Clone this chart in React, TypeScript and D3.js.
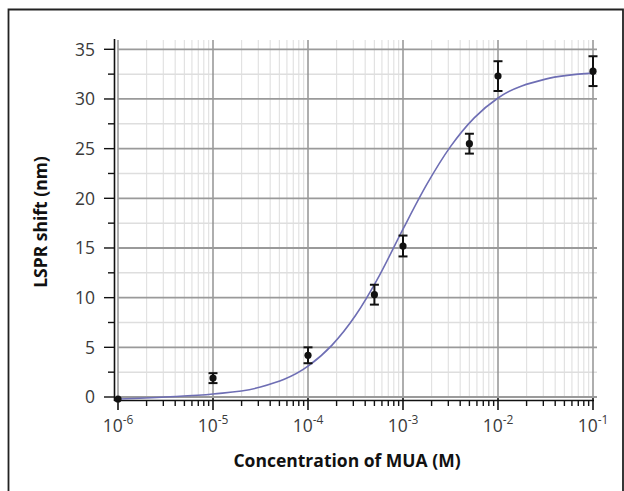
import React, { useEffect, useRef } from 'react'
import * as d3 from 'd3'

// measured points (concentration in M, LSPR shift in nm, error)
const conc = [1e-6, 1e-5, 1e-4, 5e-4, 1e-3, 5e-3, 1e-2, 1e-1]
const shift = [-0.2, 1.9, 4.2, 10.3, 15.2, 25.5, 32.3, 32.8]
const errs = [0, 0.5, 0.8, 1.0, 1.05, 1.0, 1.5, 1.5]

// fitted curve
const fitConc = [1e-6, 3.16e-6, 1e-5, 3.16e-5, 1e-4, 1.78e-4, 3.16e-4, 5.62e-4, 1e-3, 1.78e-3, 3.16e-3, 5.62e-3, 1e-2, 3.16e-2, 1e-1]
const fitShift = [-0.2, 0.0, 0.3, 1.0, 3.1, 5.2, 8.2, 12.2, 16.9, 21.4, 25.2, 28.1, 30.1, 32.0, 32.6]

const xTickExp = [-6, -5, -4, -3, -2, -1]
const yTicks = [0, 5, 10, 15, 20, 25, 30, 35]

const W = 624
const H = 491

export default function App() {
  const ref = useRef<SVGSVGElement | null>(null)

  useEffect(() => {
    const svg = d3.select(ref.current)
    svg.selectAll('*').remove()

    const x = d3.scaleLog().domain([1e-6, 1e-1]).range([118, 593])
    const y = d3.scaleLinear().domain([0, 35]).range([397, 49.3])
    const font = "'Open Sans', 'Noto Sans', sans-serif"

    // frame around the figure
    svg.append('path').attr('d', `M8.5,${H} V9.5 H${W - 1} V${H}`)
      .attr('fill', 'none').attr('stroke', '#222').attr('stroke-width', 1.8)

    const grid = svg.append('g')
    const gTop = 40, gRight = 597

    // minor grid
    const minorX: number[] = []
    for (let e = -6; e < -1; e++) for (let m = 2; m <= 9; m++) minorX.push(m * Math.pow(10, e))
    grid.selectAll('.mx').data(minorX).enter().append('line')
      .attr('x1', d => x(d)).attr('x2', d => x(d)).attr('y1', gTop).attr('y2', 397)
      .attr('stroke', '#e2e2e2').attr('stroke-width', 1.2)
    const minorY = d3.range(2.5, 35, 5)
    grid.selectAll('.my').data(minorY).enter().append('line')
      .attr('x1', 118).attr('x2', gRight).attr('y1', d => y(d)).attr('y2', d => y(d))
      .attr('stroke', '#dedede').attr('stroke-width', 1.5)

    // major grid
    grid.selectAll('.Mx').data(xTickExp).enter().append('line')
      .attr('x1', d => x(Math.pow(10, d))).attr('x2', d => x(Math.pow(10, d)))
      .attr('y1', gTop).attr('y2', 397)
      .attr('stroke', '#8c8c8c').attr('stroke-width', 1.4)
    grid.selectAll('.My').data(yTicks).enter().append('line')
      .attr('x1', 118).attr('x2', gRight).attr('y1', d => y(d)).attr('y2', d => y(d))
      .attr('stroke', '#9a9a9a').attr('stroke-width', 1.8)

    // axes
    const ax = svg.append('g').attr('stroke', '#111')
    ax.append('line').attr('x1', 114.5).attr('x2', 114.5).attr('y1', 39).attr('y2', 401).attr('stroke-width', 1.6)
    ax.append('line').attr('x1', 114).attr('x2', 594).attr('y1', 400.5).attr('y2', 400.5).attr('stroke-width', 1.6)
    ax.selectAll('.yt').data(yTicks).enter().append('line')
      .attr('x1', 104).attr('x2', 114.5).attr('y1', d => y(d)).attr('y2', d => y(d)).attr('stroke-width', 1.4)
    ax.selectAll('.ymt').data(minorY).enter().append('line')
      .attr('x1', 108).attr('x2', 114.5).attr('y1', d => y(d)).attr('y2', d => y(d)).attr('stroke-width', 1.4)
    ax.selectAll('.xt').data(xTickExp).enter().append('line')
      .attr('x1', d => x(Math.pow(10, d))).attr('x2', d => x(Math.pow(10, d)))
      .attr('y1', 398).attr('y2', 410).attr('stroke-width', 1.6)
    ax.selectAll('.xmt').data(minorX).enter().append('line')
      .attr('x1', d => x(d)).attr('x2', d => x(d)).attr('y1', 400).attr('y2', 406).attr('stroke-width', 1.4)

    // tick labels
    svg.append('g').selectAll('text').data(yTicks).enter().append('text')
      .attr('x', 95).attr('y', d => y(d)).attr('dy', '0.36em')
      .attr('text-anchor', 'end').attr('font-family', font).attr('font-size', 17.5).attr('fill', '#3a3a3a')
      .text(d => d)
    const xl = svg.append('g').selectAll('text').data(xTickExp).enter().append('text')
      .attr('x', d => x(Math.pow(10, d))).attr('y', 432)
      .attr('text-anchor', 'middle').attr('font-family', font).attr('font-size', 17.5).attr('fill', '#3a3a3a')
    xl.append('tspan').text('10')
    xl.append('tspan').attr('dy', -8).attr('font-size', 12).text(d => String(d))

    // axis titles
    svg.append('text').attr('x', 347).attr('y', 467).attr('text-anchor', 'middle')
      .attr('font-family', font).attr('font-size', 17.5).attr('font-weight', 700).attr('fill', '#111')
      .text('Concentration of MUA (M)')
    svg.append('text').attr('transform', 'translate(47,222) rotate(-90)').attr('text-anchor', 'middle')
      .attr('font-family', font).attr('font-size', 17.5).attr('font-weight', 700).attr('fill', '#111')
      .text('LSPR shift (nm)')

    // fitted curve
    const fit = fitConc.map((c, i) => ({ c, v: fitShift[i] }))
    const line = d3.line<any>().x(d => x(d.c)).y(d => y(d.v)).curve(d3.curveMonotoneX)
    svg.append('path').datum(fit).attr('fill', 'none').attr('stroke', '#6e6eb4').attr('stroke-width', 1.6).attr('d', line)

    // data with error bars
    const pts = conc.map((c, i) => ({ c, v: shift[i], e: errs[i] }))
    const eb = svg.append('g').attr('stroke', '#111').attr('stroke-width', 2)
    pts.filter(d => d.e > 0).forEach(d => {
      const cx = x(d.c)
      eb.append('line').attr('x1', cx).attr('x2', cx).attr('y1', y(d.v + d.e)).attr('y2', y(d.v - d.e))
      eb.append('line').attr('x1', cx - 4.5).attr('x2', cx + 4.5).attr('y1', y(d.v + d.e)).attr('y2', y(d.v + d.e))
      eb.append('line').attr('x1', cx - 4.5).attr('x2', cx + 4.5).attr('y1', y(d.v - d.e)).attr('y2', y(d.v - d.e))
    })
    svg.append('g').selectAll('circle').data(pts).enter().append('circle')
      .attr('cx', d => x(d.c)).attr('cy', d => y(d.v)).attr('r', 3.6).attr('fill', '#111')
  }, [])

  return (
    <svg ref={ref} width={W} height={H} viewBox={`0 0 ${W} ${H}`}
      style={{ position: 'absolute', left: 0, top: 0, background: '#fff' }} />
  )
}
